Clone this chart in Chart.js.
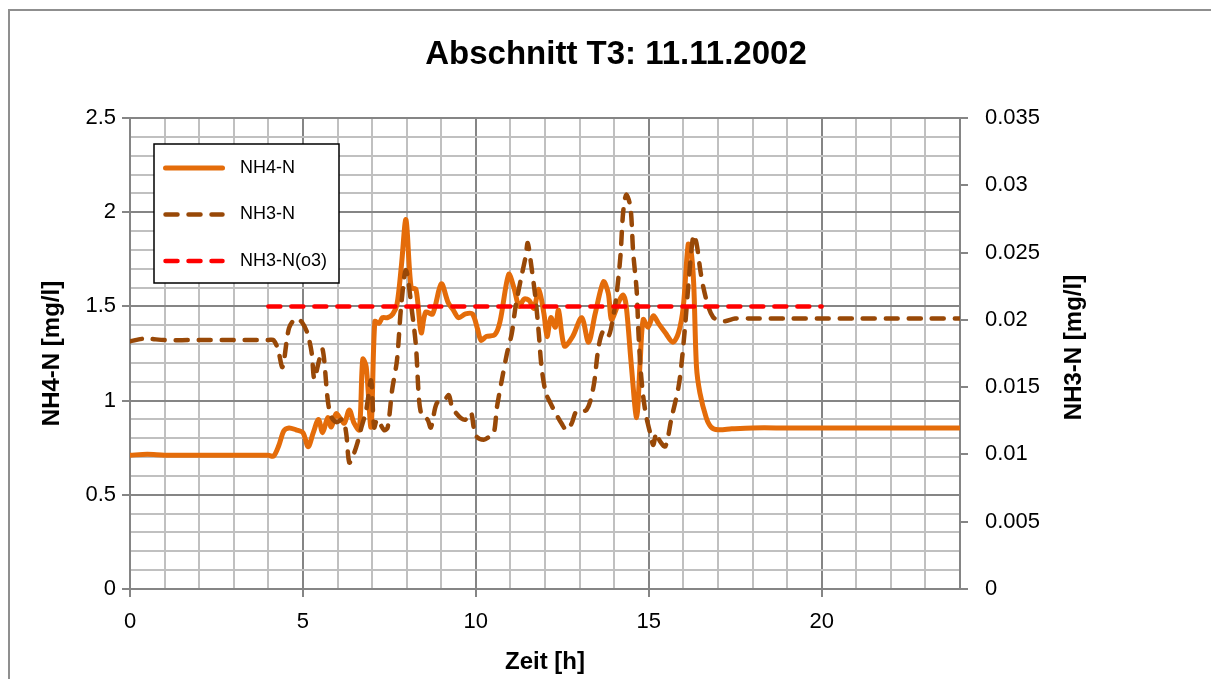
<!DOCTYPE html>
<html>
<head>
<meta charset="utf-8">
<script src="https://cdn.jsdelivr.net/npm/chart.js@4.4.1/dist/chart.umd.min.js"></script>
<style>
  html, body { margin: 0; padding: 0; background: #fff; }
  #wrap { position: relative; width: 1211px; height: 679px; overflow: hidden; }
  #frame { position: absolute; left: 8px; top: 9px; right: -5px; bottom: -5px;
           border-left: 2px solid #8f8f8f; border-top: 2px solid #8f8f8f; pointer-events: none; }
  canvas { position: absolute; left: 0; top: 0; }
</style>
</head>
<body>
<div id="wrap"><canvas id="chart" width="1211" height="679"></canvas><div id="frame"></div></div>
<script>
const chartTitle = "Abschnitt T3: 11.11.2002";
const xTitle = "Zeit [h]";
const leftTitle = "NH4-N [mg/l]";
const rightTitle = "NH3-N [mg/l]";
const seriesLabels = ["NH4-N", "NH3-N", "NH3-N(o3)"];

// NH4-N [mg/l], left axis
const nh4Time = [0, 0.5, 1, 2, 3, 4, 4.15, 4.3, 4.45, 4.6, 4.8, 5.0, 5.15, 5.3, 5.45, 5.57, 5.72, 5.82, 5.96, 6.1,
  6.2, 6.34, 6.48, 6.63, 6.73, 6.83, 6.97, 7.08, 7.2, 7.3, 7.45, 7.6, 7.72, 7.85, 7.98, 8.13, 8.27, 8.42, 8.55, 8.75,
  9.0, 9.2, 9.35, 9.5, 9.7, 9.9, 10.05, 10.15, 10.3, 10.55, 10.7, 10.95, 11.1, 11.25, 11.4, 11.55, 11.68, 11.82, 11.97, 12.06,
  12.17, 12.3, 12.39, 12.56, 12.8, 13.06, 13.26, 13.45, 13.69, 13.83, 13.92, 14.05, 14.12, 14.26, 14.35, 14.5, 14.65, 14.75, 14.84, 14.98,
  15.13, 15.28, 15.48, 15.7, 15.86, 16.0, 16.14, 16.22, 16.3, 16.38, 16.48, 16.66, 16.8, 17.0, 17.4, 18, 19, 20, 21, 22, 23, 24];
const nh4Val = [0.71, 0.715, 0.71, 0.71, 0.71, 0.71, 0.705, 0.76, 0.84, 0.855, 0.845, 0.83, 0.755, 0.83, 0.9, 0.83, 0.91, 0.86, 0.93, 0.9,
  0.88, 0.95, 0.88, 0.845, 1.22, 1.18, 0.86, 1.42, 1.41, 1.44, 1.44, 1.46, 1.51, 1.72, 1.96, 1.6, 1.59, 1.36, 1.47, 1.46,
  1.62, 1.52, 1.48, 1.44, 1.46, 1.46, 1.38, 1.32, 1.34, 1.35, 1.42, 1.67, 1.6, 1.5, 1.54, 1.53, 1.49, 1.59, 1.46, 1.34,
  1.44, 1.39, 1.48, 1.29, 1.34, 1.44, 1.31, 1.46, 1.63, 1.57, 1.43, 1.48, 1.52, 1.56, 1.5, 1.18, 0.91, 1.2, 1.43, 1.39,
  1.45, 1.41, 1.36, 1.31, 1.36, 1.5, 1.83, 1.8, 1.62, 1.18, 1.04, 0.91, 0.86, 0.845, 0.85, 0.855, 0.855, 0.855, 0.855, 0.855, 0.855, 0.855];

// NH3-N [mg/l], right axis
const nh3Time = [0, 0.4, 1, 2, 3, 4, 4.15, 4.28, 4.41, 4.6, 4.8, 4.98, 5.13, 5.25, 5.33, 5.45, 5.57, 5.72, 5.82, 5.97,
  6.15, 6.25, 6.34, 6.45, 6.57, 6.69, 6.83, 6.97, 7.06, 7.15, 7.35, 7.45, 7.58, 7.72, 7.84, 7.98, 8.16, 8.27, 8.36, 8.45,
  8.6, 8.7, 8.87, 9.08, 9.22, 9.31, 9.42, 9.57, 9.71, 9.86, 9.94, 10.03, 10.23, 10.38, 10.52, 10.61, 10.75, 10.9, 11.04, 11.15,
  11.3, 11.44, 11.5, 11.61, 11.73, 11.82, 11.9, 12.02, 12.16, 12.3, 12.48, 12.62, 12.77, 12.91, 13.2, 13.4, 13.55, 13.69, 13.83, 13.92,
  14.06, 14.18, 14.26, 14.35, 14.47, 14.55, 14.65, 14.7, 14.76, 14.84, 14.93, 15.04, 15.13, 15.22, 15.32, 15.48, 15.65, 15.86, 15.95, 16.06,
  16.14, 16.29, 16.38, 16.49, 16.58, 16.72, 16.86, 17.0, 17.2, 17.5, 18, 19, 20, 21, 22, 23, 24];
const nh3Val = [0.0184, 0.0186, 0.0185, 0.0185, 0.0185, 0.0185, 0.0185, 0.0178, 0.0165, 0.0194, 0.0201, 0.0198, 0.019, 0.0176, 0.0156, 0.0168, 0.0178, 0.014, 0.0128, 0.0124,
  0.0126, 0.0116, 0.0094, 0.0099, 0.0108, 0.012, 0.0133, 0.0155, 0.012, 0.0126, 0.0118, 0.012, 0.0148, 0.017, 0.021, 0.0237, 0.0205, 0.018, 0.014, 0.0128,
  0.0126, 0.012, 0.0138, 0.014, 0.0144, 0.0135, 0.0131, 0.0127, 0.0126, 0.0131, 0.012, 0.0113, 0.0111, 0.0113, 0.0116, 0.0135, 0.0155, 0.0175, 0.019, 0.021,
  0.023, 0.0247, 0.0257, 0.0239, 0.0215, 0.019, 0.0165, 0.0146, 0.0138, 0.0131, 0.0123, 0.0118, 0.0123, 0.0132, 0.0133, 0.015, 0.018, 0.0192, 0.0188, 0.0195,
  0.0217, 0.0247, 0.028, 0.0293, 0.0284, 0.025, 0.0222, 0.0192, 0.0165, 0.0143, 0.0128, 0.0116, 0.0107, 0.0116, 0.011, 0.0106, 0.0126, 0.015, 0.0168, 0.0198,
  0.0224, 0.0263, 0.0257, 0.0237, 0.0224, 0.021, 0.0202, 0.02, 0.0199, 0.0201, 0.0201, 0.0201, 0.0201, 0.0201, 0.0201, 0.0201, 0.0201];

// NH3-N(o3) limit, right axis
const o3Time = [4, 20];
const o3Val = [0.021, 0.021];

const FONT = "'Liberation Sans', Arial, sans-serif";
const MAJOR = "#858585";
const MINOR = "#c0c0c0";

function points(xs, ys) {
  return xs.map((x, i) => ({ x, y: ys[i] }));
}

function isMajorY(v) {
  return Math.abs(v * 2 - Math.round(v * 2)) < 1e-6;
}

const boxLegend = {
  id: "boxLegend",
  afterDatasetsDraw(chart) {
    const { ctx, chartArea } = chart;
    const x = chartArea.left + 24, y = chartArea.top + 26, w = 185, h = 139;
    ctx.save();
    ctx.fillStyle = "#fff";
    ctx.fillRect(x, y, w, h);
    ctx.strokeStyle = "#000";
    ctx.lineWidth = 1.5;
    ctx.strokeRect(x, y, w, h);
    chart.data.datasets.forEach((ds, i) => {
      const cy = y + 24 + i * 46.5;
      ctx.beginPath();
      ctx.setLineDash(ds.borderDash || []);
      ctx.lineCap = "round";
      ctx.strokeStyle = ds.borderColor;
      ctx.lineWidth = ds.borderWidth;
      ctx.moveTo(x + 11.5, cy);
      ctx.lineTo(x + 68.5, cy);
      ctx.stroke();
      ctx.setLineDash([]);
      ctx.fillStyle = "#000";
      ctx.font = "18px " + FONT;
      ctx.textBaseline = "middle";
      ctx.fillText(ds.label, x + 86, cy);
    });
    ctx.restore();
  }
};

const rightAxisTitle = {
  id: "rightAxisTitle",
  afterDraw(chart) {
    const { ctx, chartArea } = chart;
    ctx.save();
    ctx.translate(chartArea.right + 114, (chartArea.top + chartArea.bottom) / 2 - 6);
    ctx.rotate(-Math.PI / 2);
    ctx.font = "bold 24px " + FONT;
    ctx.fillStyle = "#000";
    ctx.textAlign = "center";
    ctx.textBaseline = "middle";
    ctx.fillText(rightTitle, 0, 0);
    ctx.restore();
  }
};

new Chart(document.getElementById("chart"), {
  type: "line",
  data: {
    datasets: [
      {
        label: seriesLabels[0], data: points(nh4Time, nh4Val), yAxisID: "y", order: 3,
        borderColor: "#E46C0A", borderWidth: 5, pointRadius: 0, tension: 0.3,
        borderCapStyle: "round", borderJoinStyle: "round"
      },
      {
        label: seriesLabels[1], data: points(nh3Time, nh3Val), yAxisID: "y1", order: 2,
        borderColor: "#984807", borderWidth: 4.5, borderDash: [12, 11], pointRadius: 0, tension: 0.3,
        borderCapStyle: "round", borderJoinStyle: "round"
      },
      {
        label: seriesLabels[2], data: points(o3Time, o3Val), yAxisID: "y1", order: 1,
        borderColor: "#FF0000", borderWidth: 4.5, borderDash: [12, 11], pointRadius: 0, tension: 0,
        borderCapStyle: "round"
      }
    ]
  },
  options: {
    responsive: false,
    animation: false,
    devicePixelRatio: 1,
    layout: { padding: { left: 21, right: 0, top: 0, bottom: 0 } },
    plugins: {
      legend: { display: false },
      tooltip: { enabled: false },
      title: {
        display: true, text: chartTitle, color: "#000",
        font: { family: FONT, size: 33, weight: "bold" },
        padding: { top: 35, bottom: 43.4 }
      }
    },
    scales: {
      x: {
        type: "linear", min: 0, max: 24,
        afterFit(scale) { scale.height = 90; },
        ticks: {
          stepSize: 1, autoSkip: false, maxRotation: 0, padding: 12, color: "#000",
          font: { family: FONT, size: 22 },
          callback: v => (v % 5 === 0 ? String(v) : "")
        },
        grid: {
          lineWidth: 2, tickLength: 8, tickWidth: 2,
          color: c => (c.tick && c.tick.value % 5 === 0 ? MAJOR : MINOR),
          tickColor: c => (c.tick && c.tick.value % 5 === 0 ? MAJOR : "transparent")
        },
        border: { color: MAJOR, width: 2 },
        title: {
          display: true, text: xTitle, color: "#000",
          font: { family: FONT, size: 24, weight: "bold" },
          padding: { top: 0, bottom: 2 }
        }
      },
      y: {
        position: "left", min: 0, max: 2.5,
        afterFit(scale) { scale.width = 109; },
        ticks: {
          stepSize: 0.1, autoSkip: false, padding: 6, color: "#000",
          font: { family: FONT, size: 22 },
          callback: v => (isMajorY(v) ? String(Math.round(v * 10) / 10) : "")
        },
        grid: {
          lineWidth: 2, tickLength: 8, tickWidth: 2,
          color: c => (c.tick && isMajorY(c.tick.value) ? MAJOR : MINOR),
          tickColor: c => (c.tick && isMajorY(c.tick.value) ? MAJOR : "transparent")
        },
        border: { color: MAJOR, width: 2 },
        title: {
          display: true, text: leftTitle, color: "#000",
          font: { family: FONT, size: 24, weight: "bold" },
          padding: { top: 17, bottom: 0 }
        }
      },
      y1: {
        position: "right", min: 0, max: 0.035,
        afterFit(scale) { scale.width = 251; },
        ticks: {
          stepSize: 0.005, padding: 17, color: "#000",
          font: { family: FONT, size: 22 },
          callback: v => String(Math.round(v * 1000) / 1000)
        },
        grid: { drawOnChartArea: false, lineWidth: 2, tickLength: 8, color: MAJOR },
        border: { color: MAJOR, width: 2 }
      }
    }
  },
  plugins: [boxLegend, rightAxisTitle]
});
</script>
</body>
</html>
